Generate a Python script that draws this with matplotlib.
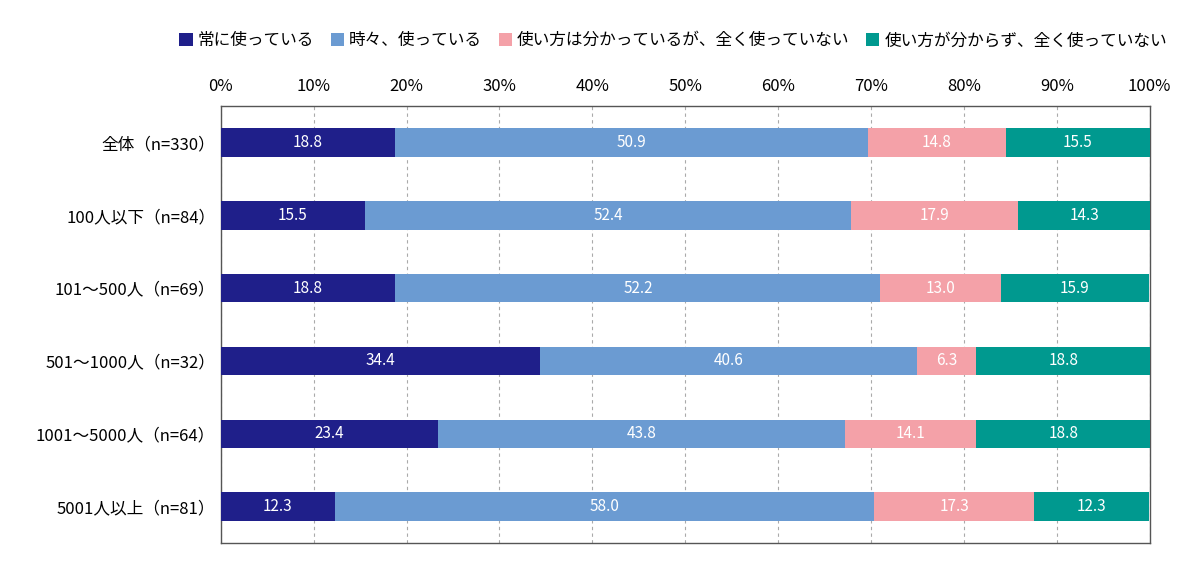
import numpy as np
import matplotlib
matplotlib.use('Agg')
import matplotlib.pyplot as plt

plt.rcParams['font.family'] = ['Noto Sans CJK JP', 'DejaVu Sans']

categories = ['全体（n=330）', '100人以下（n=84）', '101～500人（n=69）',
              '501～1000人（n=32）', '1001～5000人（n=64）', '5001人以上（n=81）']
series_names = ['常に使っている', '時々、使っている',
                '使い方は分かっているが、全く使っていない', '使い方が分からず、全く使っていない']
always = [18.8, 15.5, 18.8, 34.4, 23.4, 12.3]
sometimes = [50.9, 52.4, 52.2, 40.6, 43.8, 58.0]
know_not_use = [14.8, 17.9, 13.0, 6.3, 14.1, 17.3]
dont_know = [15.5, 14.3, 15.9, 18.8, 18.8, 12.3]
colors = ['#1f1f8a', '#6b9bd2', '#f4a1a8', '#00998f']

fig = plt.figure(figsize=(12, 5.77), dpi=100)
ax = fig.add_axes([0.184, 0.059, 0.774, 0.757])

y = np.arange(len(categories))
left = np.zeros(len(categories))
for name, vals, c in zip(series_names, [always, sometimes, know_not_use, dont_know], colors):
    bars = ax.barh(y, vals, left=left, height=0.39, color=c, label=name, zorder=3)
    for b, v in zip(bars, vals):
        ax.text(b.get_x() + b.get_width() / 2, b.get_y() + b.get_height() / 2,
                f'{v:.1f}', ha='center', va='center', color='white', fontsize=11, zorder=4)
    left += np.array(vals)

ax.set_xlim(0, 100)
ax.set_ylim(len(categories) - 0.5, -0.5)
ax.set_yticks(y)
ax.set_yticklabels(categories, fontsize=12)
ax.set_xticks(np.arange(0, 101, 10))
ax.set_xticklabels([f'{t}%' for t in range(0, 101, 10)], fontsize=12)
ax.xaxis.tick_top()
ax.tick_params(length=0, pad=8)
ax.tick_params(axis='y', pad=4)
ax.grid(axis='x', linestyle=(0, (3, 3)), color='#aaaaaa', linewidth=0.8, zorder=0)
for s in ax.spines.values():
    s.set_color('#555555')
    s.set_linewidth(1)

fig.legend(loc='upper right', bbox_to_anchor=(0.985, 0.97), ncol=4, frameon=False,
           fontsize=12, handlelength=0.8, handleheight=0.8, handletextpad=0.3,
           columnspacing=1.0)

fig.savefig('out.png', dpi=100)
